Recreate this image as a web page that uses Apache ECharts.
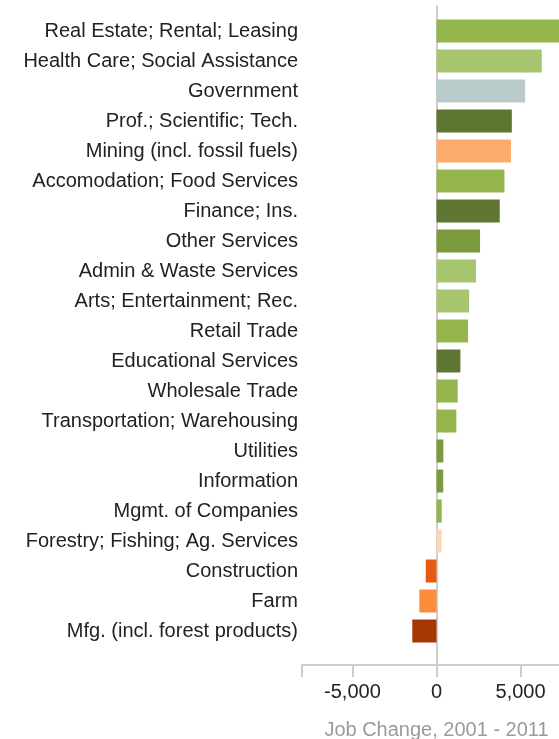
<!DOCTYPE html>
<html>
<head>
    <meta charset="UTF-8">
    <title>Job Change, 2001 - 2011</title>
    <script src="https://cdn.jsdelivr.net/npm/echarts@6/dist/echarts.min.js"></script>
    <style>
        html, body { margin: 0; padding: 0; background: #fff; }
        #chart { width: 559px; height: 739px; }
    </style>
</head>
<body>
<div id="chart"></div>
<script type="text/javascript">
    // sectors, top to bottom
    var sectors = [
        'Real Estate; Rental; Leasing',
        'Health Care; Social Assistance',
        'Government',
        'Prof.; Scientific; Tech.',
        'Mining (incl. fossil fuels)',
        'Accomodation; Food Services',
        'Finance; Ins.',
        'Other Services',
        'Admin & Waste Services',
        'Arts; Entertainment; Rec.',
        'Retail Trade',
        'Educational Services',
        'Wholesale Trade',
        'Transportation; Warehousing',
        'Utilities',
        'Information',
        'Mgmt. of Companies',
        'Forestry; Fishing; Ag. Services',
        'Construction',
        'Farm',
        'Mfg. (incl. forest products)'
    ];
    var jobChange = [7700, 6260, 5270, 4480, 4430, 4040, 3760, 2590, 2350, 1940, 1880,
        1420, 1260, 1180, 410, 400, 310, 300, -640, -1020, -1440];
    var barColors = ['#93b54c', '#a7c46f', '#b9cacb', '#5f7632', '#fcab6b', '#93b54c',
        '#5f7632', '#7a9a3d', '#a7c46f', '#a7c46f', '#93b54c', '#5f7632', '#93b54c',
        '#93b54c', '#7a9a3d', '#7a9a3d', '#93b54c', '#fdd7b3', '#e65b13', '#fd8c3d', '#a43704'];
    var xTicks = [-5000, 0, 5000];

    var font = 'Arial, "Liberation Sans", sans-serif';
    var lineGrey = '#cdcdcd';

    var option = {
        animation: false,
        grid: [
            {left: 302, width: 269, top: 16, height: 630, outerBoundsMode: 'none'},
            {left: 302, width: 269, top: 6, height: 659, outerBoundsMode: 'none'}
        ],
        xAxis: [
            {gridIndex: 0, type: 'value', min: -8000, max: 8000, show: false},
            {
                gridIndex: 1, type: 'value', min: -8000, max: 8000,
                name: 'Job Change, 2001 - 2011',
                nameLocation: 'middle',
                nameGap: 55,
                nameTextStyle: {color: '#9a9a9a', fontSize: 20, fontFamily: font},
                axisLine: {onZero: false, lineStyle: {color: lineGrey, width: 2}},
                axisTick: {show: true, length: 12, customValues: [-8000].concat(xTicks),
                    lineStyle: {color: lineGrey, width: 2}},
                axisLabel: {customValues: xTicks, margin: 17, color: '#222',
                    fontSize: 20, fontFamily: font,
                    formatter: function (v) { return v.toLocaleString('en-US'); }},
                splitLine: {show: false}
            }
        ],
        yAxis: [
            {
                gridIndex: 0, type: 'category', inverse: true, data: sectors,
                axisLine: {show: false},
                axisTick: {show: false},
                axisLabel: {margin: 4, color: '#222', fontSize: 20, fontFamily: font}
            },
            {
                gridIndex: 1, type: 'value', min: 0, max: 1,
                axisLine: {show: true, onZero: true, lineStyle: {color: lineGrey, width: 2}},
                axisTick: {show: false},
                axisLabel: {show: false},
                splitLine: {show: false}
            }
        ],
        series: [{
            type: 'bar',
            xAxisIndex: 0,
            yAxisIndex: 0,
            barWidth: 23,
            data: jobChange.map(function (v, i) {
                return {value: v, itemStyle: {color: barColors[i]}};
            })
        }]
    };
    echarts.init(document.getElementById('chart')).setOption(option);
</script>
</body>
</html>
